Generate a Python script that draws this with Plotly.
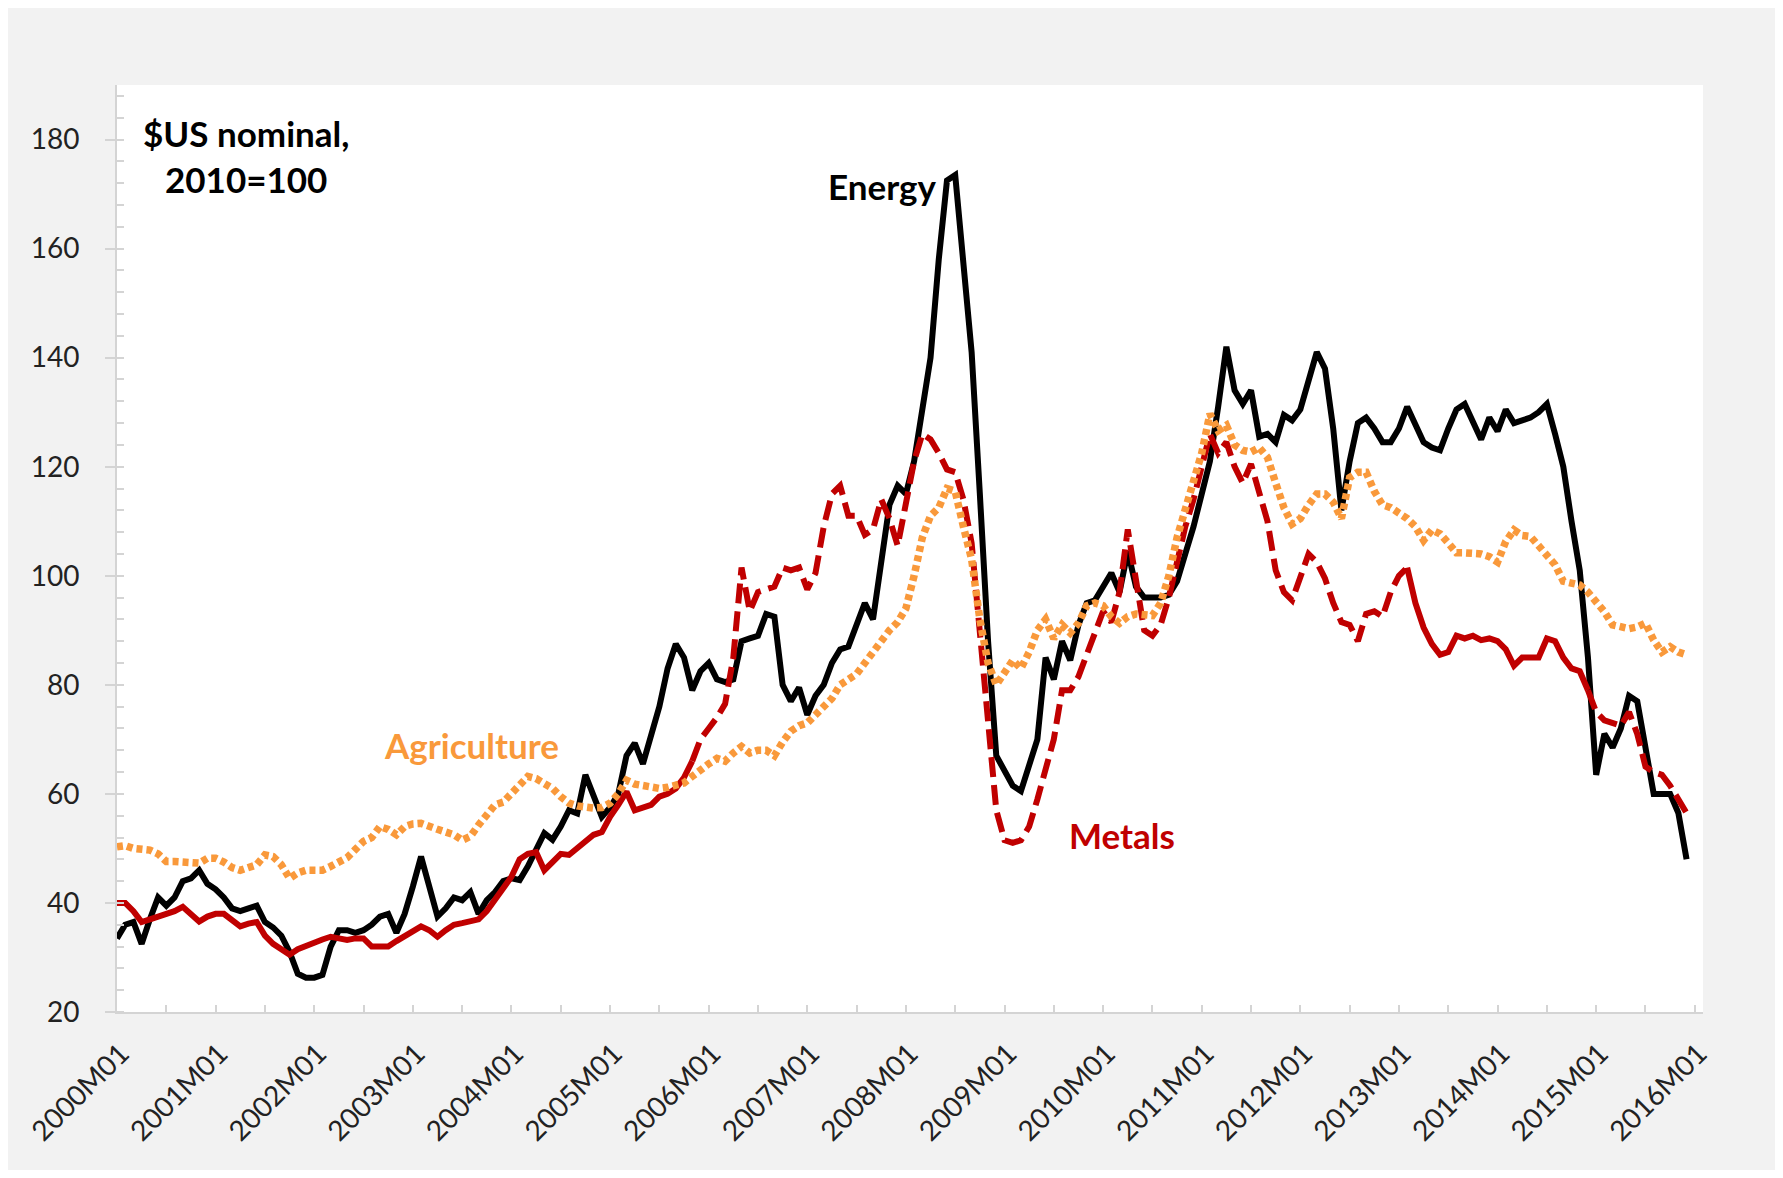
import plotly.graph_objects as go

# ---------------- data (monthly, 2000M01 .. 2015M12) ----------------
tick_labels = ["2000M01", "2001M01", "2002M01", "2003M01", "2004M01", "2005M01",
               "2006M01", "2007M01", "2008M01", "2009M01", "2010M01", "2011M01",
               "2012M01", "2013M01", "2014M01", "2015M01", "2016M01"]

energy = [
    33.5, 36, 36.5, 32.5, 37, 41, 39.5, 41, 44, 44.5, 46, 43.5,            # 2000
    42.5, 41, 39, 38.5, 39, 39.5, 36.5, 35.5, 34, 31, 27, 26.3,            # 2001
    26.3, 26.8, 32, 35, 35, 34.5, 35, 36, 37.5, 38, 34.5, 38,              # 2002
    43, 48.5, 43, 37.5, 39, 41, 40.5, 42, 38, 40.5, 42, 44,                # 2003
    44.5, 44.2, 46.7, 50, 52.8, 51.6, 54, 57, 56.4, 63.5, 59.5, 55.8,      # 2004
    57.5, 60, 67, 69.3, 65.5, 71, 76, 83, 87.5, 85, 79, 82.5,              # 2005
    84, 81, 80.5, 81, 88, 88.5, 89, 93, 92.5, 80, 77, 79.5,                # 2006
    74.5, 78, 80, 84, 86.5, 87, 91, 95, 92, 102, 113, 116.5,               # 2007
    115, 121, 130, 140, 158, 172.5, 173.5, 158, 141, 115, 88, 67,          # 2008
    64, 61.5, 60.5, 65, 70, 85, 81, 88, 84.5, 91, 95, 95.5,                # 2009
    98, 100.5, 97, 104.5, 98, 96, 96, 96, 96.5, 99, 104, 109,              # 2010
    115, 121, 131, 142, 134, 131.5, 134, 125.5, 126, 124.5, 129.5, 128.5,  # 2011
    130.5, 136, 141, 138, 127, 112, 121, 128, 129, 127, 124.5, 124.5,      # 2012
    127, 131, 128, 124.5, 123.5, 123, 127, 130.5, 131.5, 128.5, 125, 129,  # 2013
    126.5, 130.5, 128, 128.5, 129, 130, 131.5, 126, 120, 110, 101, 85,     # 2014
    63.5, 71, 68.5, 72, 78, 77, 68, 60, 60, 60, 56.5, 48,                  # 2015
]

metals = [
    40, 40, 38.5, 36.5, 37, 37.5, 37.8, 38.5, 39.3, 38, 36.6, 37.5,        # 2000
    38, 38, 37, 35.7, 36.2, 36.5, 34, 32.5, 31.5, 30.5, 31.5, 32,          # 2001
    32.7, 33.3, 33.8, 33.5, 33.2, 33.5, 33.5, 32, 32, 32, 33, 34,          # 2002
    35, 35.7, 35, 33.8, 35, 36, 36.3, 36.6, 37, 38.5, 40.5, 42.5,          # 2003
    44.8, 48, 49, 49.3, 46, 47.5, 49, 48.8, 50, 51.5, 52.5, 53,            # 2004
    55.8, 58, 60.4, 57, 57.5, 58, 59.5, 60, 61, 63, 66, 70,                # 2005
    72, 74, 76.5, 85, 101.5, 93.5, 97, 97.5, 98, 101.5, 101, 101.5,        # 2006
    97.5, 100.5, 109, 115, 116.5, 111, 111, 107.5, 108.5, 114, 110.5, 105.5,  # 2007
    114, 121, 126, 125, 122.5, 119.5, 119, 114, 106, 90, 73, 57,           # 2008
    51.5, 51, 51.5, 54, 59, 64.5, 70, 79, 79, 81.5, 85.5, 89.5,            # 2009
    93.5, 91.5, 97, 108.5, 99, 90, 89, 91, 96, 103, 109, 114,              # 2010
    120, 126, 122.5, 124.5, 120, 117, 120.5, 115.5, 110, 101, 97, 95.5,    # 2011
    100, 104, 102.5, 99.5, 95, 91.5, 91, 88, 93, 93.5, 92.5, 97,           # 2012
    100, 101.5, 95, 90.5, 87.5, 85.5, 86, 89, 88.5, 89, 88.2, 88.5,        # 2013
    88, 86.5, 83.5, 85, 85, 85, 88.5, 88, 85, 83, 82.5, 79,                # 2014
    75, 73.5, 73, 72.5, 75, 71, 65, 64, 63.5, 61.5, 59, 56.5,              # 2015
]

agriculture = [
    50.3, 50.5, 50, 50, 49.7, 49, 47.6, 47.6, 47.6, 47.5, 47.3, 48.2,      # 2000
    48.2, 47.5, 46.5, 46, 46.5, 47, 48.8, 48.5, 47, 44.5, 45.5, 46,        # 2001
    46, 46, 46.7, 47.6, 48.3, 49.8, 51.3, 52, 54, 53.5, 52.5, 54,          # 2002
    54.5, 54.6, 54.2, 53.5, 53, 52.5, 51.5, 52.2, 54.3, 56.2, 58, 58.5,    # 2003
    60, 61.6, 63.2, 62.8, 62, 61, 59.5, 58.3, 57.8, 57.5, 57.4, 57.5,      # 2004
    58.3, 60, 62.5, 61.8, 61.5, 61.3, 61, 61.2, 61.5, 62, 63.2, 64.5,      # 2005
    65.5, 66.5, 66, 67.5, 68.7, 67.5, 68, 68, 67, 69.5, 71.5, 72.5,        # 2006
    73, 74.5, 76, 77.5, 80, 81, 82, 84, 86, 88.5, 90, 91.5,                # 2007
    94, 100, 107, 111, 112.5, 116, 115.5, 109, 103, 92, 84, 80,            # 2008
    82.5, 84.5, 83, 86, 90, 92, 88.5, 91, 89.5, 91.3, 94.5, 95,            # 2009
    94.5, 92.5, 91.3, 92.5, 93, 92.7, 92.7, 95, 100, 107, 112, 118,        # 2010
    122.5, 129.7, 126.6, 127.6, 124, 123, 122.7, 123.5, 121.7, 117, 112.5, 109.5,  # 2011
    110.5, 113, 115, 115, 113.5, 110.5, 118, 119, 119, 115.5, 113, 112.5,  # 2012
    111.5, 110.5, 109, 106.5, 108.4, 107.7, 106, 104.2, 104.2, 104.2, 104, 103.5,  # 2013
    102.5, 106.3, 108.4, 107.4, 107.2, 105.5, 103.5, 102, 99, 98.6, 98.3, 97,  # 2014
    95.2, 93.4, 91, 90.6, 90.3, 90.6, 91.3, 88.2, 86, 87, 86, 85.5,        # 2015
]

y_ticks = [20, 40, 60, 80, 100, 120, 140, 160, 180]

# ---------------- styling ----------------
FONT = "Lato"
AXIS_GREY = "#d4d4d4"
ORANGE = "#f9993b"
RED = "#c00000"

n = len(energy)
months = list(range(n))

fig = go.Figure()

fig.add_trace(go.Scatter(x=months, y=energy, mode="lines", name="Energy",
                         line=dict(color="black", width=6), showlegend=False))

# Metals: solid / dashed pieces as in the source chart
pieces = [(0, 70, "solid"), (70, 157, "20px,8px"), (157, 179, "solid"), (179, n - 1, "20px,8px")]
for a, b, d in pieces:
    fig.add_trace(go.Scatter(x=months[a:b + 1], y=metals[a:b + 1], mode="lines",
                             name="Metals", line=dict(color=RED, width=6, dash=d),
                             showlegend=False))

fig.add_trace(go.Scatter(x=months, y=agriculture, mode="lines", name="Agriculture",
                         line=dict(color=ORANGE, width=7.5, dash="6px,4px"),
                         showlegend=False))

# labels
ann_font = dict(family=FONT, size=35)
fig.add_annotation(x=15.7, y=176.9, xref="x", yref="y", showarrow=False,
                   text="<b>$US nominal,<br>2010=100</b>", align="center",
                   font=dict(ann_font, color="black"))
fig.add_annotation(x=93.1, y=171.5, xref="x", yref="y", showarrow=False,
                   text="<b>Energy</b>", font=dict(ann_font, color="black"))
fig.add_annotation(x=43.1, y=69, xref="x", yref="y", showarrow=False,
                   text="<b>Agriculture</b>", font=dict(ann_font, color=ORANGE))
fig.add_annotation(x=122.3, y=52.5, xref="x", yref="y", showarrow=False,
                   text="<b>Metals</b>", font=dict(ann_font, color=RED))

x_tickvals = list(range(0, 193, 6))
x_ticktext = [tick_labels[v // 12] if v % 12 == 0 else "" for v in x_tickvals]

fig.update_xaxes(range=[0, 193], tickmode="array", tickvals=x_tickvals, ticktext=x_ticktext,
                 tickangle=-45, ticks="inside", ticklen=7, tickwidth=2, tickcolor=AXIS_GREY,
                 showline=True, linecolor=AXIS_GREY, linewidth=2, showgrid=False,
                 zeroline=False, ticklabelstandoff=12, ticklabelshift=4,
                 tickfont=dict(family=FONT, size=28, color="#222222"))
fig.update_yaxes(range=[20, 190], tickmode="array", tickvals=y_ticks,
                 ticks="outside", ticklen=10, tickwidth=2, tickcolor=AXIS_GREY,
                 minor=dict(tickmode="linear", tick0=20, dtick=4, ticks="inside",
                            ticklen=7, tickwidth=2, tickcolor=AXIS_GREY),
                 showline=True, linecolor=AXIS_GREY, linewidth=2, showgrid=False,
                 zeroline=False, ticklabelstandoff=20,
                 tickfont=dict(family=FONT, size=28, color="#222222"))

fig.update_layout(width=1767, height=1162, autosize=False,
                  margin=dict(l=109, r=72, t=77, b=158),
                  paper_bgcolor="#f2f2f2", plot_bgcolor="white",
                  font=dict(family=FONT))

fig.write_html("out.html")
